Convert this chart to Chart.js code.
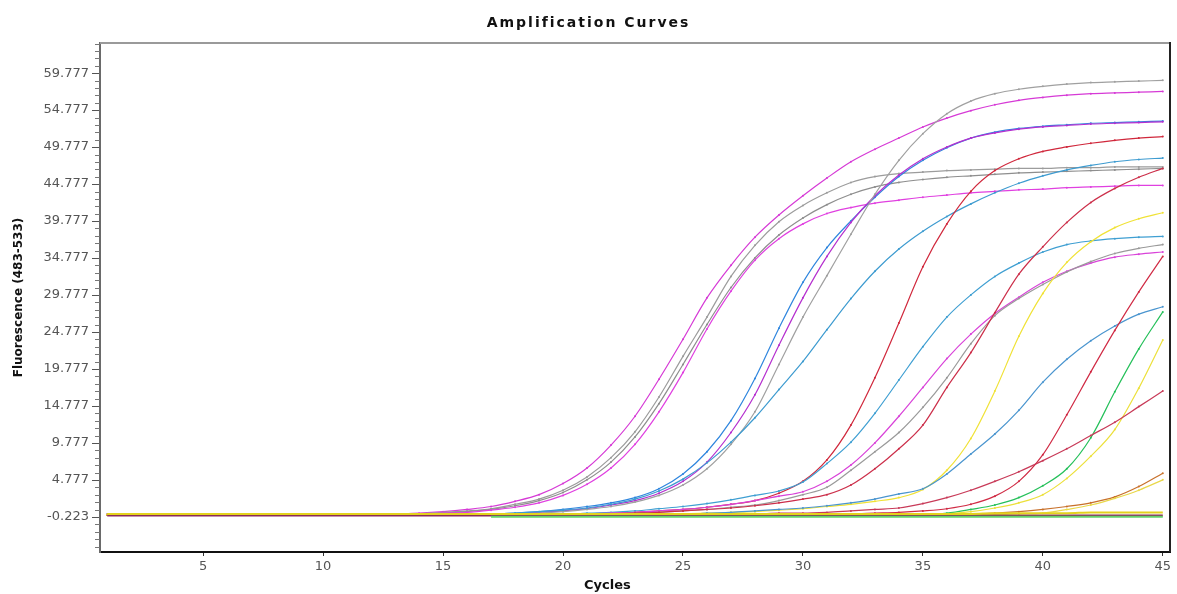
<!DOCTYPE html>
<html>
<head>
<meta charset="utf-8">
<title>Amplification Curves</title>
<script src="https://cdn.jsdelivr.net/npm/chart.js@4.4.1/dist/chart.umd.min.js"></script>
<style>
  html, body { margin: 0; padding: 0; background: #fff; }
  #wrap { width: 1177px; height: 594px; }
</style>
</head>
<body>
<div id="wrap"><canvas id="ampchart" width="1177" height="594"></canvas></div>
<script>
const chartTitle = 'Amplification Curves'
const xTitle = 'Cycles'
const yTitle = 'Fluorescence (483-533)'

const cycles = [1,2,3,4,5,6,7,8,9,10,11,12,13,14,15,16,17,18,19,20,21,22,23,24,25,26,27,28,29,30,31,32,33,34,35,36,37,38,39,40,41,42,43,44,45]
const xTickValues = [5,10,15,20,25,30,35,40,45]
const yTickValues = [-0.223,4.777,9.777,14.777,19.777,24.777,29.777,34.777,39.777,44.777,49.777,54.777,59.777]

// one value per cycle
const magentaA = [0.1,0.1,0.1,0.1,0.1,0.1,0.1,0.1,0.1,0.1,0.1,0.1,0.2,0.3,0.5,0.8,1.2,1.9,2.8,4.3,6.4,9.5,13.4,18.4,23.8,29.4,33.8,37.6,40.6,43.2,45.6,47.8,49.5,51.0,52.5,53.7,54.7,55.5,56.1,56.5,56.8,57.0,57.1,57.2,57.3]
const grayB = [0.1,0.1,0.1,0.1,0.1,0.1,0.1,0.1,0.1,0.1,0.1,0.1,0.1,0.2,0.4,0.6,0.9,1.5,2.2,3.4,5.2,7.8,11.3,16.0,21.5,26.8,32.3,36.5,39.7,41.9,43.6,45.0,45.8,46.2,46.4,46.6,46.7,46.8,46.9,46.9,47.0,47.0,47.1,47.1,47.1]
const grayC = [0.1,0.1,0.1,0.1,0.1,0.1,0.1,0.1,0.1,0.1,0.1,0.1,0.1,0.2,0.3,0.5,0.8,1.3,2.0,3.1,4.8,7.2,10.6,15.1,20.4,25.8,30.8,34.8,37.9,40.2,42.0,43.4,44.4,45.0,45.4,45.7,45.9,46.1,46.3,46.4,46.5,46.6,46.7,46.8,46.9]
const magentaD = [0.1,0.1,0.1,0.1,0.1,0.1,0.1,0.1,0.1,0.1,0.1,0.1,0.1,0.2,0.3,0.4,0.7,1.1,1.7,2.7,4.2,6.4,9.6,14.0,19.3,25.2,30.3,34.5,37.4,39.4,40.8,41.6,42.2,42.6,43.0,43.3,43.6,43.8,44.0,44.1,44.3,44.4,44.5,44.6,44.6]
const blueE = [0.1,0.1,0.1,0.1,0.1,0.1,0.1,0.1,0.1,0.1,0.1,0.1,0.1,0.1,0.1,0.1,0.2,0.3,0.5,0.8,1.2,1.7,2.4,3.6,5.6,8.6,12.8,18.5,25.3,31.5,36.2,39.8,43.0,45.8,48.0,49.7,51.0,51.8,52.3,52.6,52.8,53.0,53.1,53.2,53.3]
const purpleF = [0.1,0.1,0.1,0.1,0.1,0.1,0.1,0.1,0.1,0.1,0.1,0.1,0.1,0.1,0.1,0.1,0.1,0.2,0.4,0.6,0.9,1.4,2.0,3.0,4.6,7.2,11.2,16.3,23.0,29.4,35.0,39.6,43.2,46.0,48.2,49.8,51.0,51.7,52.2,52.5,52.7,52.9,53.0,53.1,53.2]
const grayG = [0.1,0.1,0.1,0.1,0.1,0.1,0.1,0.1,0.1,0.1,0.1,0.1,0.1,0.1,0.1,0.1,0.1,0.2,0.3,0.5,0.8,1.2,1.8,2.7,4.1,6.3,9.6,14.0,20.4,26.8,32.4,38.0,43.4,48.0,51.6,54.3,56.0,57.0,57.6,58.0,58.3,58.5,58.6,58.7,58.8]
const steelH = [0.1,0.1,0.1,0.1,0.1,0.1,0.1,0.1,0.1,0.1,0.1,0.1,0.1,0.1,0.1,0.1,0.2,0.3,0.5,0.7,1.0,1.5,2.2,3.3,4.9,7.1,9.9,13.2,17.0,20.8,25.1,29.3,33.0,36.0,38.4,40.4,42.1,43.6,44.9,45.9,46.7,47.3,47.8,48.1,48.3]
const redJ = [0.1,0.1,0.1,0.1,0.1,0.1,0.1,0.1,0.1,0.1,0.1,0.1,0.1,0.1,0.1,0.1,0.1,0.1,0.1,0.1,0.2,0.3,0.4,0.6,0.8,1.1,1.5,2.0,3.0,4.6,7.5,12.2,18.6,26.0,33.6,39.4,43.8,46.6,48.2,49.2,49.8,50.3,50.7,51.0,51.2]
const tealK = [0.1,0.1,0.1,0.1,0.1,0.1,0.1,0.1,0.1,0.1,0.1,0.1,0.1,0.1,0.1,0.1,0.1,0.1,0.1,0.1,0.3,0.4,0.6,0.9,1.2,1.6,2.1,2.7,3.3,4.5,7.0,9.9,13.8,18.3,22.8,26.8,29.8,32.3,34.1,35.6,36.6,37.1,37.4,37.6,37.7]
const magentaL = [0.1,0.1,0.1,0.1,0.1,0.1,0.1,0.1,0.1,0.1,0.1,0.1,0.1,0.1,0.1,0.1,0.1,0.1,0.1,0.1,0.2,0.3,0.4,0.6,0.8,1.1,1.5,2.0,2.6,3.2,4.6,6.8,9.8,13.4,17.3,21.2,24.5,27.3,29.5,31.5,33.0,34.1,34.9,35.3,35.6]
const grayM = [0.1,0.1,0.1,0.1,0.1,0.1,0.1,0.1,0.1,0.1,0.1,0.1,0.1,0.1,0.1,0.1,0.1,0.1,0.1,0.1,0.1,0.2,0.3,0.4,0.6,0.8,1.1,1.4,2.0,2.8,3.8,6.1,8.6,11.2,14.6,18.6,23.2,27.0,29.3,31.2,32.9,34.3,35.4,36.1,36.6]
const redN = [0.1,0.1,0.1,0.1,0.1,0.1,0.1,0.1,0.1,0.1,0.1,0.1,0.1,0.1,0.1,0.1,0.1,0.1,0.1,0.1,0.1,0.2,0.3,0.4,0.6,0.8,1.0,1.3,1.7,2.2,2.8,4.1,6.3,9.0,12.2,17.3,22.0,27.4,32.6,36.3,39.6,42.3,44.2,45.7,46.9]
const yellowO = [0.1,0.1,0.1,0.1,0.1,0.1,0.1,0.1,0.1,0.1,0.1,0.1,0.1,0.1,0.1,0.1,0.1,0.1,0.1,0.1,0.1,0.1,0.1,0.1,0.2,0.3,0.4,0.5,0.7,0.9,1.2,1.5,1.9,2.4,3.5,6.1,10.4,16.8,24.2,30.0,34.2,37.0,38.9,40.1,40.9]
const blueP = [0.1,0.1,0.1,0.1,0.1,0.1,0.1,0.1,0.1,0.1,0.1,0.1,0.1,0.1,0.1,0.1,0.1,0.1,0.1,0.1,0.1,0.1,0.1,0.1,0.1,0.3,0.4,0.6,0.8,1.0,1.3,1.7,2.2,2.9,3.6,5.6,8.3,11.0,14.2,18.0,21.1,23.6,25.6,27.2,28.2]
const redQ = [0.1,0.1,0.1,0.1,0.1,0.1,0.1,0.1,0.1,0.1,0.1,0.1,0.1,0.1,0.1,0.1,0.1,0.1,0.1,0.1,0.1,0.1,0.1,0.1,0.1,0.1,0.1,0.1,0.1,0.1,0.2,0.2,0.3,0.4,0.6,0.9,1.5,2.6,4.6,8.2,13.6,19.4,25.0,30.2,35.0]
const greenR = [0.1,0.1,0.1,0.1,0.1,0.1,0.1,0.1,0.1,0.1,0.1,0.1,0.1,0.1,0.1,0.1,0.1,0.1,0.1,0.1,0.1,0.1,0.1,0.1,0.1,0.1,0.1,0.1,0.1,0.1,0.1,0.1,0.1,0.1,0.1,0.3,0.8,1.4,2.4,4.0,6.3,10.5,16.7,22.5,27.5]
const yellowS = [0.1,0.1,0.1,0.1,0.1,0.1,0.1,0.1,0.1,0.1,0.1,0.1,0.1,0.1,0.1,0.1,0.1,0.1,0.1,0.1,0.1,0.1,0.1,0.1,0.1,0.1,0.1,0.1,0.1,0.1,0.1,0.1,0.1,0.1,0.1,0.2,0.5,1.0,1.7,2.8,5.0,8.0,11.6,17.2,23.7]
const redT = [0.1,0.1,0.1,0.1,0.1,0.1,0.1,0.1,0.1,0.1,0.1,0.1,0.1,0.1,0.1,0.1,0.1,0.1,0.1,0.1,0.1,0.1,0.1,0.1,0.1,0.1,0.2,0.2,0.3,0.3,0.4,0.6,0.8,1.0,1.6,2.4,3.4,4.6,5.9,7.4,9.0,10.8,12.6,14.7,16.8]
const orangeU = [0.1,0.1,0.1,0.1,0.1,0.1,0.1,0.1,0.1,0.1,0.1,0.1,0.1,0.1,0.1,0.1,0.1,0.1,0.1,0.1,0.1,0.1,0.1,0.1,0.1,0.1,0.1,0.1,0.1,0.1,0.1,0.1,0.1,0.1,0.1,0.1,0.2,0.3,0.5,0.8,1.2,1.7,2.5,3.9,5.7]
const yellowV = [0.1,0.1,0.1,0.1,0.1,0.1,0.1,0.1,0.1,0.1,0.1,0.1,0.1,0.1,0.1,0.1,0.1,0.1,0.1,0.1,0.1,0.1,0.1,0.1,0.1,0.1,0.1,0.1,0.1,0.1,0.1,0.1,0.1,0.1,0.1,0.1,0.1,0.1,0.2,0.3,0.8,1.4,2.3,3.4,4.8]
// flat (negative) wells
const flatYellow = [0.2,0.2,0.2,0.2,0.2,0.2,0.2,0.2,0.2,0.2,0.2,0.2,0.2,0.2,0.2,0.2,0.2,0.2,0.2,0.2,0.2,0.2,0.2,0.2,0.2,0.2,0.2,0.2,0.2,0.2,0.2,0.2,0.2,0.2,0.2,0.2,0.2,0.3,0.3,0.3,0.3,0.4,0.4,0.4,0.4]
const flatGreen = [null,null,null,null,null,null,null,null,null,null,null,null,null,null,null,null,-0.2,-0.2,-0.2,-0.2,-0.2,-0.2,-0.2,-0.2,-0.2,-0.2,-0.2,-0.2,-0.2,-0.2,-0.2,-0.2,-0.2,-0.2,-0.2,-0.2,-0.2,-0.2,-0.2,-0.2,-0.2,-0.2,-0.2,-0.2,-0.2]
const flatMaroon = [0.0,0.0,0.0,0.0,0.0,0.0,0.0,0.0,0.0,0.0,0.0,0.0,0.0,0.0,0.0,0.0,0.0,0.0,0.0,0.0,0.0,0.0,0.0,0.0,0.0,0.0,0.0,0.0,0.0,0.0,0.0,0.0,0.0,0.0,0.0,0.0,0.0,0.0,0.0,0.0,0.0,0.0,0.0,0.0,0.0]

// first entry is drawn on top
const curves = [
  { values: flatYellow, color: '#e3d21c', flat: true },
  { values: flatGreen, color: '#62d06a', flat: true },
  { values: flatMaroon, color: '#8a2a58', flat: true },
  { values: yellowV, color: '#e9d84a' },
  { values: orangeU, color: '#c8702a' },
  { values: redT, color: '#c83a58' },
  { values: yellowS, color: '#ece03a' },
  { values: greenR, color: '#25c05a' },
  { values: redQ, color: '#d02a44' },
  { values: blueP, color: '#4a95cf' },
  { values: yellowO, color: '#f0e236' },
  { values: redN, color: '#cc2f4a' },
  { values: grayM, color: '#9a9a9a' },
  { values: magentaL, color: '#d943d9' },
  { values: tealK, color: '#3f9fd2' },
  { values: redJ, color: '#d0283c' },
  { values: steelH, color: '#3d9bd0' },
  { values: grayG, color: '#a0a0a0' },
  { values: purpleF, color: '#b52fcf' },
  { values: blueE, color: '#2f86de' },
  { values: magentaD, color: '#e040e0' },
  { values: grayC, color: '#8e8e8e' },
  { values: grayB, color: '#9c9c9c' },
  { values: magentaA, color: '#d63ad6' }
]

const framePlugin = {
  id: 'frame',
  afterDraw(chart) {
    const { ctx, chartArea: a, scales } = chart
    ctx.save()
    ctx.lineWidth = 2
    ctx.strokeStyle = '#9a9a9a'
    ctx.beginPath()
    ctx.moveTo(a.left, a.top)
    ctx.lineTo(a.right, a.top)
    ctx.stroke()
    ctx.strokeStyle = '#222'
    ctx.beginPath()
    ctx.moveTo(a.right, a.top - 1)
    ctx.lineTo(a.right, a.bottom)
    ctx.stroke()

    // minor ticks on the y axis, one per unit
    const y = scales.y
    ctx.lineWidth = 1
    ctx.strokeStyle = '#777'
    ctx.beginPath()
    for (let k = -4; k <= 64; k++) {
      if (k % 5 === 0) continue
      const v = yTickValues[0] + k
      if (v < y.min || v > y.max) continue
      const py = Math.round(y.getPixelForValue(v)) + 0.5
      ctx.moveTo(a.left - 5, py)
      ctx.lineTo(a.left, py)
    }
    ctx.stroke()

    ctx.fillStyle = '#111'
    ctx.textAlign = 'center'
    ctx.textBaseline = 'middle'
    ctx.font = 'bold 14px "DejaVu Sans"'
    ctx.letterSpacing = '2px'
    ctx.fillText(chartTitle, chart.width / 2, 23)
    ctx.letterSpacing = '0px'
    ctx.font = 'bold 13px "DejaVu Sans"'
    ctx.fillText(xTitle, chart.width * 0.516, 586)
    ctx.restore()
  }
}

const ctx = document.getElementById('ampchart').getContext('2d')
const chart = new Chart(ctx, {
  type: 'line',
  data: {
    datasets: curves.map(c => ({
      data: c.values.map((v, i) => ({ x: cycles[i], y: v })),
      borderColor: c.color,
      backgroundColor: c.color,
      borderWidth: c.flat ? 2 : 1.2,
      pointRadius: c.flat ? 0 : 1,
      pointBorderWidth: 0,
      pointHoverRadius: 0,
      cubicInterpolationMode: 'monotone',
      fill: false
    }))
  },
  options: {
    responsive: false,
    animation: false,
    devicePixelRatio: 1,
    layout: { padding: { top: 43, right: 7, bottom: 0, left: 0 } },
    plugins: {
      legend: { display: false },
      tooltip: { enabled: false }
    },
    scales: {
      x: {
        type: 'linear',
        min: 0.7,
        max: 45.3,
        afterBuildTicks: s => { s.ticks = xTickValues.map(v => ({ value: v })) },
        afterFit: s => { s.height = 42 },
        grid: { drawOnChartArea: false, tickLength: 4, tickColor: '#333' },
        border: { color: '#111', width: 2 },
        ticks: {
          color: '#555',
          font: { family: 'DejaVu Sans', size: 13 },
          padding: 3,
          maxRotation: 0,
          autoSkip: false
        }
      },
      y: {
        type: 'linear',
        min: -4.95,
        max: 63.85,
        afterBuildTicks: s => { s.ticks = yTickValues.map(v => ({ value: v })) },
        afterFit: s => { s.width = 100 },
        grid: { drawOnChartArea: false, tickLength: 8, tickColor: '#555' },
        border: { color: '#6a6a6a', width: 2 },
        ticks: {
          color: '#555',
          font: { family: 'DejaVu Sans', size: 13 },
          padding: 3,
          autoSkip: false,
          callback: v => Number(v).toFixed(3)
        },
        title: {
          display: true,
          text: yTitle,
          color: '#111',
          font: { family: 'DejaVu Sans', size: 12, weight: 'bold' },
          padding: { top: 12, bottom: 0 }
        }
      }
    }
  },
  plugins: [framePlugin]
})
</script>
</body>
</html>
